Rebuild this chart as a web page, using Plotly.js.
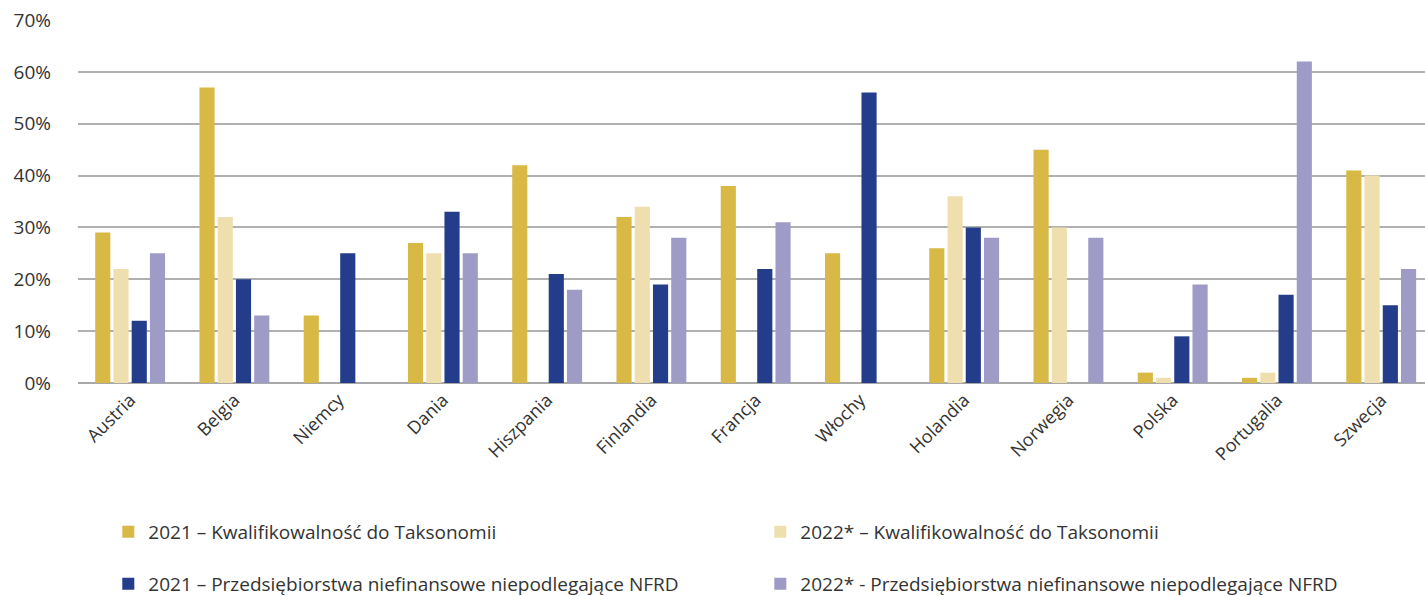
<!DOCTYPE html>
<html><head><meta charset="utf-8">
<script src="https://cdn.plot.ly/plotly-3.0.1.min.js"></script>
<style>html,body{margin:0;padding:0;background:#fff;}#chart{width:1425px;height:596px;}</style>
</head><body><div id="chart"></div>
<script>
const countries = ["Austria","Belgia","Niemcy","Dania","Hiszpania","Finlandia","Francja","Włochy","Holandia","Norwegia","Polska","Portugalia","Szwecja"];
const kwal2021 = [29,57,13,27,42,32,38,25,26,45,2,1,41];
const kwal2022 = [22,32,null,25,null,34,null,null,36,30,1,2,40];
const nfrd2021 = [12,20,25,33,21,19,22,56,30,null,9,17,15];
const nfrd2022 = [25,13,null,25,18,28,31,null,28,28,19,62,22];
const names = ["2021 – Kwalifikowalność do Taksonomii","2022* – Kwalifikowalność do Taksonomii","2021 – Przedsiębiorstwa niefinansowe niepodlegające NFRD","2022* - Przedsiębiorstwa niefinansowe niepodlegające NFRD"];
const colors = ["#D8B946","#EFDFAE","#233D8B","#9E9CC6"];
const series = [kwal2021,kwal2022,nfrd2021,nfrd2022];
const legends = ["legend","legend","legend2","legend2"];
const traces = series.map((s,i)=>({type:"bar",x:countries,y:s.map(v=>v===null?null:v/100),name:names[i],
  marker:{color:colors[i]},legend:legends[i],hoverinfo:"x+y"}));
const font = "'Open Sans', sans-serif";
const legendBase = {orientation:"h",xref:"container",yref:"container",x:0.076,xanchor:"left",yanchor:"middle",
  font:{family:font,size:19,color:"#333"},entrywidth:607,itemwidth:30,bgcolor:"rgba(0,0,0,0)"};
const layout = {
  width:1425,height:596,margin:{l:78,r:0,t:20,b:213,autoexpand:false},
  paper_bgcolor:"#fff",plot_bgcolor:"#fff",
  barmode:"group",bargap:0.30,bargroupgap:0.17,
  font:{family:font,color:"#333"},
  xaxis:{type:"category",range:[-0.5,12.42],tickangle:-45,tickfont:{family:font,size:18,color:"#333"},automargin:false,
    showgrid:false,zeroline:false,showline:false,ticks:"",ticklabelstandoff:2},
  yaxis:{range:[0,0.7],dtick:0.1,tickformat:".0%",tickfont:{family:font,size:19,color:"#333"},automargin:false,
    showgrid:true,gridcolor:"#b0b0b0",gridwidth:2,zeroline:true,zerolinecolor:"#a8a8a8",zerolinewidth:2,
    showline:false,ticks:"",ticklabelstandoff:26},
  legend:Object.assign({},legendBase,{y:1-532/596}),
  legend2:Object.assign({},legendBase,{y:1-584/596}),
  showlegend:true
};
Plotly.newPlot("chart",traces,layout,{displayModeBar:false,staticPlot:true});
</script></body></html>
